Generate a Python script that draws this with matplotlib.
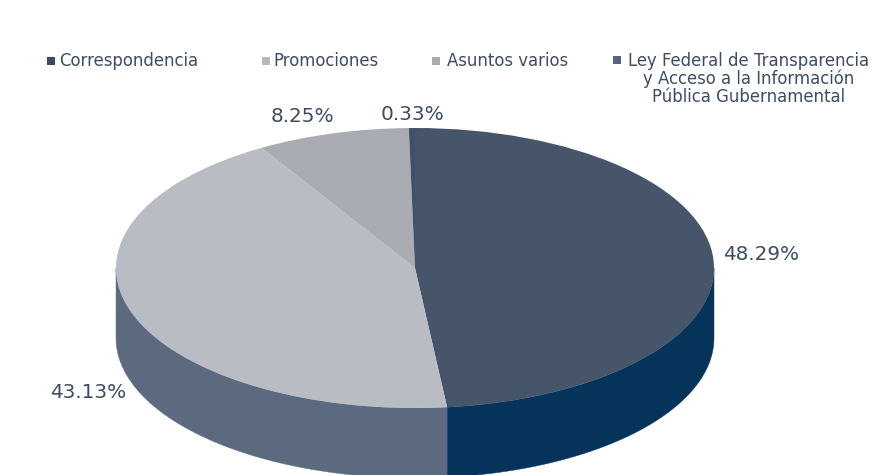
import numpy as np
import matplotlib
matplotlib.use('Agg')
import matplotlib.pyplot as plt

W, H = 872, 475

categories = ['Correspondencia', 'Promociones', 'Asuntos varios',
              'Ley Federal de Transparencia\ny Acceso a la Información\nPública Gubernamental']
values = [48.29, 43.13, 8.25, 0.33]
top_colors = ['#465569', '#b9bcc3', '#a9acb2', '#3f5068']
wall_colors = ['#06335a', '#5b6a7e', '#5b6a7e', '#5b6a7e']
key_colors = ['#3b4a62', '#b5b8be', '#a9acb2', '#56657c']

TEXT = '#3d4c63'
CX, CY, RX, RY = 415, 268, 299, 140   # pie ellipse, in pixels
DEPTH = 70 / RY


def px(x, y):
    return x / W, 1 - y / H


fig = plt.figure(figsize=(W / 100, H / 100), dpi=100, facecolor='white')
ax = fig.add_axes([0, 0, 1, 1])

# side wall, front half only
edges = np.cumsum([0] + values) / 100 * 360
for start, stop, color in zip(edges[:-1], edges[1:], wall_colors):
    a, b = max(start, 90), min(stop, 270)
    if a >= b:
        continue
    t = np.radians(np.linspace(a, b, 120))
    xs = np.sin(t)
    ys = np.cos(t)
    ax.fill(np.r_[xs, xs[::-1]], np.r_[ys, ys[::-1] - DEPTH],
            color=color, lw=0.3, zorder=1)

wedges, _ = ax.pie(values, colors=top_colors, startangle=90, counterclock=False,
                   radius=1, wedgeprops={'linewidth': 0})
for w in wedges:
    w.set_zorder(2)

# stretch the unit pie into the flattened ellipse
ax.set_aspect('auto')
ax.set_xlim(-CX / RX, (W - CX) / RX)
ax.set_ylim((CY - H) / RY, CY / RY)
ax.axis('off')

# legend
key_x = [51, 266, 436, 617]
key_y = [61, 61, 61, 60]
for x, y, c in zip(key_x, key_y, key_colors):
    ax.scatter(*px(x, y), marker='s', s=30, color=c, transform=ax.transAxes,
               clip_on=False, zorder=3, linewidths=0)

font = 11.9
t_kw = dict(transform=ax.transAxes, color=TEXT, fontsize=font, va='center')
ax.text(*px(59, 61), categories[0], ha='left', **t_kw)
ax.text(*px(273, 61), categories[1], ha='left', **t_kw)
ax.text(*px(447, 61), categories[2], ha='left', **t_kw)
ax.text(*px(749, 79), categories[3], ha='center', linespacing=0.98, **t_kw)

# percent labels
label_x = [761, 88, 302, 412]
label_y = [254, 393, 117, 114]
for x, y, v in zip(label_x, label_y, values):
    ax.text(*px(x, y), f'{v:.2f}%', ha='center', va='center', color=TEXT,
            fontsize=14.4, transform=ax.transAxes)

plt.savefig('out.png', dpi=100, facecolor='white')
